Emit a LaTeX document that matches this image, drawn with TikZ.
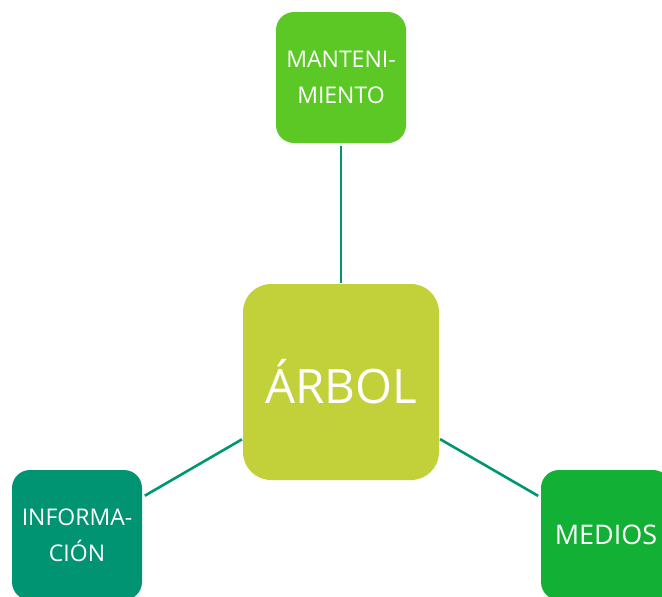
\documentclass[tikz,border=0pt]{standalone}
\usepackage{fontspec}
\setmainfont{Open Sans}
\definecolor{centrecol}{RGB}{194,209,58}
\definecolor{topcol}{RGB}{91,200,37}
\definecolor{leftcol}{RGB}{0,148,115}
\definecolor{rightcol}{RGB}{18,176,52}
\definecolor{linkcol}{RGB}{0,150,112}
\tikzset{
  smallbox/.style={rectangle, rounded corners=18pt, minimum width=130pt, minimum height=130pt,
    inner sep=0pt, text=white, align=center, font=\fontsize{23}{36}\selectfont},
  bigbox/.style={rectangle, rounded corners=28pt, minimum width=196pt, minimum height=196pt,
    inner sep=0pt, text=white, align=center, font=\fontsize{47.5}{52}\selectfont},
  link/.style={draw=linkcol, line width=2.6pt, shorten <=3pt, shorten >=1pt}
}
\begin{document}
\begin{tikzpicture}[x=1pt,y=-1pt]
\useasboundingbox (0,0) rectangle (662,597);
\node[bigbox, fill=centrecol] (arbol) at (341,382) {ÁRBOL};
\node[smallbox, fill=topcol, minimum height=131pt] (mant) at (341,77.5) {MANTENI-\\MIENTO};
\node[smallbox, fill=leftcol] (info) at (77,535) {INFORMA-\\CIÓN};
\node[smallbox, fill=rightcol, font=\fontsize{27}{32}\selectfont] (medios) at (606,535) {MEDIOS};
\draw[link] (mant) -- (arbol);
\draw[link] (info) -- (arbol);
\draw[link] (medios) -- (arbol);
\end{tikzpicture}
\end{document}
